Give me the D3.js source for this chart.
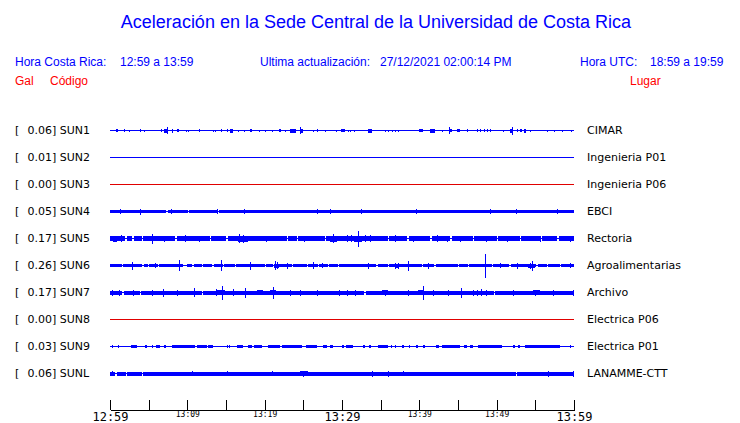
<!DOCTYPE html>
<html><head><meta charset="utf-8">
<script src="https://cdn.jsdelivr.net/npm/d3@7"></script>
<style>
html,body{margin:0;padding:0;background:#fff;}
svg{display:block;}
</style>
</head><body>
<script>
// ---------------- DATA ----------------
const codes  = ["SUN1","SUN2","SUN3","SUN4","SUN5","SUN6","SUN7","SUN8","SUN9","SUNL"];
const peaks  = [0.06, 0.01, 0.00, 0.05, 0.17, 0.26, 0.17, 0.00, 0.03, 0.06];
const places = ["CIMAR","Ingenieria P01","Ingenieria P06","EBCI","Rectoria","Agroalimentarias","Archivo","Electrica P06","Electrica P01","LANAMME-CTT"];
// continuous band half-amplitude per station
const bands  = [0.5, 0.5, 0.5, 1.5, 2.5, 1.5, 2.0, 0.5, 0.5, 1.9];

// bursts: [startMinute, endMinute, halfAmplitude]  (minutes after 12:59)
const sun1Bursts = [[0.78,1.03,1.5],[1.81,1.94,1.5],[2.46,2.46,1],[3.88,3.88,1.5],[4.4,4.4,1],[6.6,6.6,1.5],
 [6.98,7.5,2],[7.37,7.37,3.5],[8.0,8.0,2],[8.66,8.92,1.5],[9.83,9.83,1],[10.1,10.1,1],[11.5,11.64,1.5],
 [13.3,13.3,1.2],[13.6,13.6,1],[14.35,14.35,1.5],[15.1,15.1,1.5],[15.5,15.9,1.8],[16.55,16.55,1],[17.3,17.3,1],
 [18.1,18.4,1.3],[19.3,19.3,1],[20.0,20.0,1.2],[20.9,20.9,1],[21.85,22.1,1.3],[22.6,22.6,1],[23.3,24.05,2],
 [24.6,24.6,3.5],[24.7,24.95,2],[26.25,26.25,1.2],[26.8,26.9,1.3],[27.8,27.8,1],[29.2,29.2,1.2],[29.9,30.4,1.5],
 [30.8,30.8,1],[31.0,31.0,1],[31.55,31.55,1],[33.4,33.9,2],[35.6,35.6,1.2],[35.95,35.95,1.2],[36.5,36.5,1.2],
 [36.85,36.85,1.2],[37.25,37.25,1.2],[40.0,40.5,1.3],[41.4,42.0,1.8],[42.9,42.9,1],[43.8,43.8,3.5],[43.8,44.2,1.3],
 [44.9,45.3,1.5],[46.2,46.2,1.3],[47.5,47.5,1.3],[47.8,47.8,1.3],[48.4,48.4,1.3],[48.75,48.75,1.3],[49.1,49.1,1.3],
 [50.8,50.8,1],[51.7,52.1,1.8],[52.0,52.0,4],[52.6,52.6,1.5],[53.0,53.3,1.3],[53.5,53.8,1.8],[54.3,54.3,1.2],
 [56.5,56.5,1.2],[57.4,57.4,1],[58.45,58.45,1],[59.6,59.6,1.2]];
const sun2Bursts = [];
const sun3Bursts = [];
const sun4Bursts = [[1.3,1.3,2.5],[3.9,3.9,3],[7.9,7.9,2.5],[13.8,13.8,2.5],[17.3,17.3,2.5],[26.8,26.8,2.5],
 [28.45,28.45,2.5],[32.5,32.5,2.5],[39.6,39.6,2.5],[49.1,49.1,2.5],[52.5,52.5,2.5],[57.8,57.8,2.5]];
const sun5Bursts = [[0.4,0.9,3],[1.4,1.4,3.3],[5.4,5.4,5],[7.0,7.0,3.2],[9.7,9.7,3.5],[11.5,11.5,3.2],[16.55,17.85,3],
 [16.7,16.7,4.5],[17.2,17.2,4],[20.2,20.2,3.2],[25.1,25.1,3.2],[28.4,29.35,3],[28.8,28.8,4.5],[30.6,30.6,3.3],
 [31.2,31.2,3.3],[31.6,32.6,3],[32.1,32.1,8],[33.0,33.0,3.3],[33.6,33.6,3.5],[36.9,36.9,3.3],[39.2,39.2,3.2],
 [42.3,42.3,3.5],[43.6,43.6,3.2],[45.3,45.3,3],[48.6,48.6,3.2],[51.4,51.4,3.2],[55.6,55.6,3],[59.5,59.5,3]];
const sun6Bursts = [[2.85,2.85,4],[5.8,5.8,2.5],[8.9,8.9,5.5],[14.35,14.35,5.5],[18.1,18.1,4],[21.2,21.8,2.2],
 [21.3,21.3,4.5],[21.6,21.6,3.5],[22.9,22.9,3],[26.25,26.25,3.5],[27.4,27.4,2.5],[33.4,33.4,3],[36.85,37.25,2.2],
 [36.9,36.9,3],[37.2,37.2,3],[38.55,38.55,5],[41.1,41.1,3],[48.5,48.5,12],[50.4,50.4,2.5],[52.6,52.6,3],
 [54.1,55.0,2.2],[54.3,54.3,3],[54.6,54.6,5],[59.5,59.5,2.5]];
const sun7Bursts = [[0.25,0.25,3],[1.15,1.15,3],[2.95,2.95,3],[5.4,5.4,3],[6.85,6.85,4],[8.65,8.65,3],
 [10.85,10.85,4.5],[13.7,13.7,3.5],[13.9,14.9,2.7],[14.5,14.5,7],[15.9,15.9,3.5],[17.45,17.45,5],[19.0,19.8,2.6],
 [20.7,21.5,2.7],[21.1,21.1,6],[23.3,23.3,3],[24.6,24.6,3],[26.8,26.8,3],[29.6,29.6,3],[30.6,30.6,3],
 [31.7,31.7,3],[35.2,35.95,2.6],[35.5,35.5,3],[38.55,38.55,3],[39.8,40.5,2.7],[40.5,40.5,7],[41.8,41.8,3],[43.7,43.7,3],
 [45.4,45.4,5],[46.9,46.9,3],[47.4,47.4,3],[48.0,48.0,3.5],[48.6,48.6,3],[52.1,52.1,3],[54.7,55.6,2.6],[55.0,55.0,3],
 [57.3,57.3,3],[59.9,59.9,3]];
const sun8Bursts = [];
const sun9Bursts = [[0.3,0.3,1.3],[1.0,1.0,1.3],[2.7,3.5,1.4],[4.5,4.8,1.4],[5.4,5.6,1.4],[6.0,6.5,1.4],[7.0,7.2,1.4],
 [8.0,11.0,1.4],[11.3,12.5,1.4],[12.7,13.3,1.4],[15.1,15.2,1.4],[15.4,15.5,1.4],[16.4,17.2,1.4],[17.8,18.3,1.4],
 [18.6,19.7,1.4],[20.4,22.0,1.4],[22.2,24.8,1.4],[25.3,26.8,1.4],[27.5,28.0,1.4],[28.4,28.8,1.4],[30.0,30.2,1.4],
 [30.5,31.4,1.4],[32.7,33.0,1.4],[33.5,33.8,1.4],[34.7,36.0,1.4],[36.3,36.4,1.4],[36.8,37.0,1.4],[37.8,38.0,1.4],
 [38.6,38.8,1.4],[39.6,39.8,1.4],[40.5,40.7,1.4],[42.2,42.5,1.4],[42.9,45.2,1.4],[45.8,46.2,1.4],[46.6,47.0,1.4],
 [47.6,50.7,1.4],[52.1,52.4,1.4],[52.8,53.0,1.4],[53.7,58.2,1.4],[59.5,59.5,1.6]];
const sunLBursts = [[0.25,0.25,2.6],[10.6,10.6,2.6],[15.1,15.1,2.6],[20.95,20.95,2.6],[24.6,25.6,2.3],[24.9,24.9,2.8],
 [33.9,33.9,2.8],[35.95,35.95,2.8],[37.9,37.9,2.6],[56.65,56.65,2.8],[59.9,59.9,2.8]];
const stationBursts = [sun1Bursts,sun2Bursts,sun3Bursts,sun4Bursts,sun5Bursts,sun6Bursts,sun7Bursts,sun8Bursts,sun9Bursts,sunLBursts];

// quiet intervals where the band drops to the bare trace: [startMinute, endMinute]
const sun4Gaps = [[7.3,7.45],[10.1,10.25],[14.0,14.15]];
const sun5Gaps = [[0.6,0.75],[2.0,2.15],[2.9,3.05],[4.1,4.25],[8.45,8.6],[12.9,13.05],[15.05,15.2],[22.85,23.0],
 [24.15,24.3],[27.75,27.9],[35.9,36.1],[38.4,38.6],[41.4,41.6],[44.0,44.2],[46.9,47.1],[50.0,50.2],[53.0,53.2],[55.6,55.8],[57.8,58.0]];
const sun6Gaps = [[1.5,1.65],[4.1,4.4],[4.85,5.0],[6.15,6.3],[9.45,9.95],[10.65,10.8],[11.85,12.0],[13.25,13.4],
 [14.55,14.7],[16.1,16.25],[20.0,20.15],[21.05,21.2],[23.5,23.65],[25.45,25.6],[26.85,27.0],[28.15,28.3],[29.45,29.6],
 [34.45,34.6],[35.9,36.05],[40.3,40.45],[41.95,42.1],[44.95,45.1],[46.25,46.4],[49.35,49.5],[51.65,51.8],[55.15,55.3],
 [56.45,56.6],[58.15,58.3]];
const sun7Gaps = [[1.6,1.75],[3.9,4.05],[11.9,12.05],[32.9,33.05],[49.6,49.75]];
const sunLGaps = [[0.7,0.85],[2.1,2.25],[4.1,4.25],[52.5,52.65]];
const stationGaps = [[],[],[],sun4Gaps,sun5Gaps,sun6Gaps,sun7Gaps,[],[],sunLGaps];

// axis
const tickMinutes = [0,5,10,15,20,25,30,35,40,45,50,55,60];
const tickLabels  = ["12:59","","13:09","","13:19","","13:29","","13:39","","13:49","","13:59"];
const majorLabels = ["12:59","13:29","13:59"];

// header texts
const titleText = "Aceleración en la Sede Central de la Universidad de Costa Rica";
const crLabel = "Hora Costa Rica:", crRange = "12:59 a 13:59";
const updLabel = "Ultima actualización:", updValue = "27/12/2021 02:00:14 PM";
const utcLabel = "Hora UTC:", utcRange = "18:59 a 19:59";
const colGal = "Gal", colCode = "Código", colPlace = "Lugar";

// ---------------- DRAW ----------------
const W = 740, H = 423;
const BLUE = "#0000ff", RED = "#ff0000", TRACE_RED = "#e00000";
const svg = d3.select("body").append("svg").attr("width", W).attr("height", H)
  .attr("shape-rendering", "crispEdges");

const x = d3.scaleLinear().domain([0, 60]).range([110, 574]);
const y = d3.scalePoint().domain(codes).range([130.5, 373.5]);
const amp = d3.scaleLinear().domain([0, 13.5]).range([0, 13.5]);

const txt = (s, X, Y, opts = {}) => svg.append("text").attr("x", X).attr("y", Y)
  .attr("font-family", opts.family || "'Liberation Sans', Arial, sans-serif")
  .attr("font-size", opts.size || 12).attr("fill", opts.fill || BLUE)
  .attr("text-anchor", opts.anchor || "start")
  .attr("shape-rendering", null)
  .style("white-space", "pre").text(s);

txt(titleText, 376, 28, {size: 18, anchor: "middle"});
txt(crLabel, 15, 65.5); txt(crRange, 120, 65.5);
txt(updLabel, 260, 65.5); txt(updValue, 380, 65.5);
txt(utcLabel, 580, 65.5); txt(utcRange, 650, 65.5);
txt(colGal, 15, 84.5, {fill: RED}); txt(colCode, 50, 84.5, {fill: RED});
txt(colPlace, 630, 84.5, {fill: RED});

const DV = "'DejaVu Sans', sans-serif";
codes.forEach((code, i) => {
  const cy = y(code);
  txt("[", 15, cy + 3.5, {family: DV, size: 11, fill: "#000"});
  txt(peaks[i].toFixed(2) + "] " + code, 27.5, cy + 3.5, {family: DV, size: 11, fill: "#000"});
  txt(places[i], 587, cy + 3.5, {family: DV, size: 11, fill: "#000"});

  const color = peaks[i] === 0 ? TRACE_RED : BLUE;
  const g = svg.append("g").attr("fill", color);
  const rect = (t0, t1, a) => {
    const x0 = Math.round(x(t0));
    const w = Math.max(1, Math.round(x(t1)) - x0);
    const h = Math.max(1, Math.round(2 * amp(a)));
    g.append("rect").attr("x", x0).attr("width", w)
      .attr("y", Math.round(cy - h / 2)).attr("height", h);
  };
  // bare trace
  rect(0, 60, 0.5);
  // continuous band, interrupted by quiet gaps
  if (bands[i] > 0.5) {
    let start = 0;
    const gaps = stationGaps[i].slice().sort((a, b) => a[0] - b[0]);
    gaps.forEach(([g0, g1]) => { if (g0 > start) rect(start, g0, bands[i]); start = g1; });
    if (start < 60) rect(start, 60, bands[i]);
  }
  // bursts and spikes
  stationBursts[i].forEach(([t0, t1, a]) => rect(t0, t1, a));
});

// time axis
const axis = d3.axisBottom(x).tickValues(tickMinutes).tickSizeInner(-10).tickSizeOuter(0)
  .tickPadding(0).tickFormat((d, i) => tickLabels[i]);
const ag = svg.append("g").attr("transform", "translate(0,409.5)").call(axis);
ag.select(".domain").attr("stroke", "#000");
ag.selectAll(".tick line").attr("stroke", "#000");
ag.selectAll(".tick text")
  .attr("fill", "#000")
  .attr("font-family", "'DejaVu Sans Mono', monospace")
  .attr("font-size", d => majorLabels.includes(tickLabels[tickMinutes.indexOf(d)]) ? 12 : 8)
  .attr("dy", null)
  .attr("y", d => majorLabels.includes(tickLabels[tickMinutes.indexOf(d)]) ? 11 : 7);
</script>
</body></html>
